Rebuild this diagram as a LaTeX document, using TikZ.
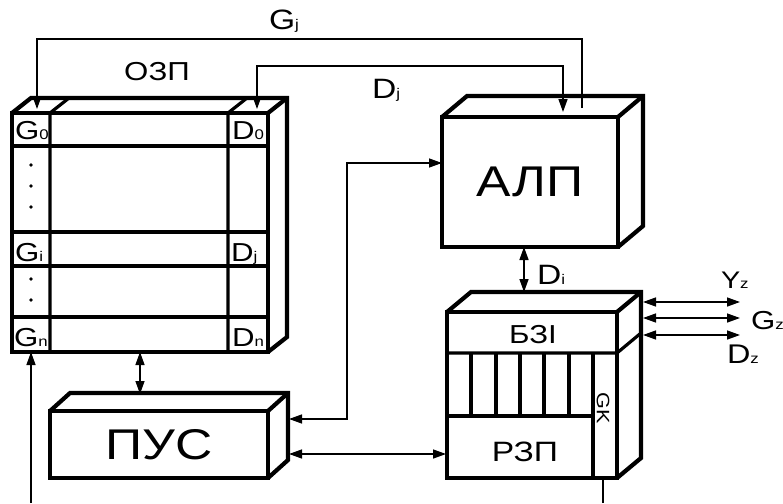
\documentclass[tikz,border=0pt]{standalone}
\usepackage{fontspec}
\setmainfont[FakeStretch=1.2]{Liberation Sans}
\usetikzlibrary{arrows.meta}
\newcommand\lowix[1]{{\fontsize{14}{14}\selectfont #1}}
\begin{document}
\begin{tikzpicture}[x=1pt,y=-1pt,>={Triangle[length=13pt,width=9pt]},
  every node/.style={inner sep=0pt,outer sep=0pt},
  box/.style={draw,line width=4.2pt},
  face/.style={line width=4.2pt},
  cell/.style={line width=3.2pt},
  conn/.style={line width=1.4pt},
  big/.style={font=\fontsize{43}{43}\selectfont},
  mid/.style={font=\fontsize{26}{26}\selectfont},
  lbl/.style={font=\fontsize{28}{28}\selectfont,anchor=base west},
  reg/.style={font=\fontsize{26}{26}\selectfont,anchor=base west}]
\useasboundingbox (0,0) rectangle (783,503);

% ОЗП
\node[box,minimum width=256pt,minimum height=239pt] (ozp) at (140,232.5) {};
\draw[face] (ozp.north west) -- ++(19,-15) -- ++(256,0) -- ++(0,239) -- ++(-19,15);
\draw[face] (ozp.north east) -- ++(19,-15);
\foreach \y in {146,232,266,317}
  \draw[cell] (12,\y) -- (268,\y);
\foreach \x in {50,228}
  \draw[cell] (\x,352) -- (\x,113) -- ++(19,-15);
\foreach \y in {165,186,207,279,300}
  \fill (31,\y) circle (1.8);
\node[reg] (g0) at (15,139) {G\lowix{0}};
\node[reg] (d0) at (232,139) {D\lowix{0}};
\node[reg] (gi) at (15,261) {G\lowix{i}};
\node[reg] (dj) at (231,261) {D\lowix{j}};
\node[reg] (gn) at (14,346) {G\lowix{n}};
\node[reg] (dn) at (232,346) {D\lowix{n}};
\node[mid] (ozplbl) at (157,72) {ОЗП};

% АЛП
\node[box,big,minimum width=176pt,minimum height=130pt] (alp) at (530,182) {АЛП};
\draw[face] (alp.north west) -- ++(25,-21) -- ++(176,0) -- ++(0,130) -- ++(-25,21);
\draw[face] (alp.north east) -- ++(25,-21);

% ПУС
\node[box,big,minimum width=218pt,minimum height=67pt] (pus) at (159,444.5) {ПУС};
\draw[face] (pus.north west) -- ++(20,-18) -- ++(218,0) -- ++(0,67) -- ++(-20,18);
\draw[face] (pus.north east) -- ++(20,-18);

% БЗІ / РЗП
\node[box,minimum width=170pt,minimum height=166pt] (bzi) at (532,395) {};
\draw[face] (bzi.north west) -- ++(24,-20) -- ++(170,0) -- ++(0,166) -- ++(-24,20);
\draw[face] (bzi.north east) -- ++(24,-20);
\draw[cell] (447,353) -- (617,353) -- ++(24,-20);
\draw[cell] (447,416) -- (593,416);
\foreach \x in {471,496,520,544,569}
  \draw[cell] (\x,353) -- (\x,416);
\draw[cell] (593,353) -- (593,478);
\node[mid] (bzilbl) at (533,335) {БЗІ};
\node[font=\fontsize{28}{28}\selectfont] (rzp) at (525,452) {РЗП};
\node[font=\fontsize{18}{18}\selectfont,rotate=-90] (gk) at (603,408) {GK};

% connectors
\coordinate (gjin) at (37,109);
\coordinate (gjout) at (582,108);
\draw[conn,->] (gjout) -- ++(0,-69) -| (gjin);
\coordinate (djozp) at (257,109);
\coordinate (djalp) at (563,112);
\draw[conn,<->] (djozp) -- ++(0,-43) -| (djalp);
\coordinate (alpin) at (442,163);
\coordinate (pusin) at (289,419);
\draw[conn,<->] (pusin) -- ++(58,0) |- (alpin);
\coordinate (pustop) at (140,394);
\draw[conn,<->] (ozp.south) -- (pustop);
\coordinate (pusout) at (289,454);
\coordinate (rzpin) at (446,454);
\draw[conn,<->] (pusout) -- (rzpin);
\coordinate (bzitop) at (524,292);
\draw[conn,<->] (alp.south -| bzitop) -- (bzitop);
\coordinate (ozpin) at (31,503);
\draw[conn,->] (ozpin) -- (ozpin |- ozp.south);
\coordinate (gkout) at (603,503);
\draw[conn] (gkout) -- (gkout |- bzi.south);
\foreach \y/\n in {302/yz,318/gz,335/dz}{
  \coordinate (\n a) at (643,\y);
  \coordinate (\n b) at (740,\y);
  \draw[conn,<->] (\n a) -- (\n b);
}
\node[lbl] (gjlbl) at (269,30) {G\lowix{j}};
\node[lbl] (djlbl) at (372,98) {D\lowix{j}};
\node[lbl] (dilbl) at (537,284) {D\lowix{i}};
\node[lbl,font=\fontsize{24}{24}\selectfont] (yzlbl) at (721,288) {Y\lowix{z}};
\node[lbl,font=\fontsize{26}{26}\selectfont] (gzlbl) at (751,329) {G\lowix{z}};
\node[lbl,font=\fontsize{27}{27}\selectfont] (dzlbl) at (727,363) {D\lowix{z}};
\end{tikzpicture}
\end{document}
